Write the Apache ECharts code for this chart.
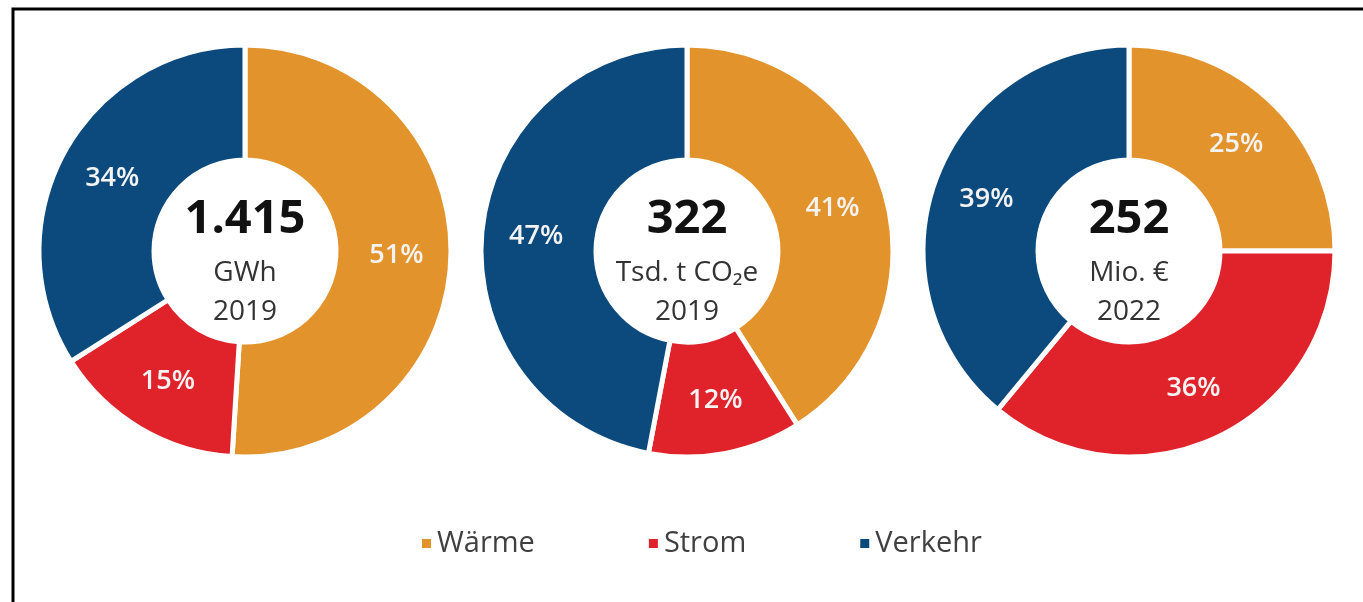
<!DOCTYPE html>
<html>
<head>
<meta charset="utf-8">
<script src="https://cdn.jsdelivr.net/npm/echarts@6/dist/echarts.min.js"></script>
<style>
  html, body { margin: 0; padding: 0; background: #fff; }
  #main { width: 1363px; height: 602px; }
</style>
</head>
<body>
<div id="main"></div>
<script>
var categories = ['Wärme', 'Strom', 'Verkehr'];
var energyShares = [51, 15, 34];     // Energieverbrauch 2019
var emissionShares = [41, 12, 47];   // THG-Emissionen 2019
var costShares = [25, 36, 39];       // Energiekosten 2022
var totals = ['1.415', '322', '252'];
var units = ['GWh', 'Tsd. t CO₂e', 'Mio. €'];
var years = ['2019', '2019', '2022'];
var colors = ['#E3932C', '#E0232A', '#0C4A7D'];

var font = '"Open Sans", "Noto Sans", "DejaVu Sans", sans-serif';
var centersX = [245, 687, 1129];
var centerY = 251;

var myChart = echarts.init(document.getElementById('main'));

function makePie(values, i){
    return {
        type: 'pie',
        center: [centersX[i], centerY],
        radius: [91, 206],
        startAngle: 90,
        clockwise: true,
        silent: true,
        itemStyle: {
            borderColor: '#fff',
            borderWidth: 5
        },
        label: {
            show: true,
            position: 'inside',
            formatter: '{c}%',
            color: '#f3f3f3',
            fontSize: 27,
            fontWeight: 600,
            fontFamily: font
        },
        labelLine: { show: false },
        data: categories.map(function(name, k){
            return { name: name, value: values[k] };
        })
    };
}

// texts in the middle of each ring
var centerTexts = [];
for (var i = 0; i < 3; i++) {
    centerTexts.push({
        type: 'text', x: centersX[i], y: centerY - 31,
        style: { text: totals[i], align: 'center', verticalAlign: 'middle',
                 font: 'bold 47px ' + font, fill: '#111' }
    });
    centerTexts.push({
        type: 'text', x: centersX[i], y: centerY + 22,
        style: { text: units[i], align: 'center', verticalAlign: 'middle',
                 font: '28px ' + font, fill: '#333' }
    });
    centerTexts.push({
        type: 'text', x: centersX[i], y: centerY + 61,
        style: { text: years[i], align: 'center', verticalAlign: 'middle',
                 font: '28px ' + font, fill: '#333' }
    });
}
// frame
centerTexts.push({
    type: 'rect',
    shape: { x: 13, y: 9, width: 1400, height: 700 },
    style: { fill: 'none', stroke: '#000', lineWidth: 3 },
    silent: true
});

var option = {
    animation: false,
    color: colors,
    legend: {
        data: categories,
        left: 415,
        top: 524,
        icon: 'rect',
        itemWidth: 11,
        itemHeight: 11,
        itemGap: 112,
        textStyle: { fontSize: 29, color: '#404040', fontFamily: font }
    },
    graphic: centerTexts,
    series: [
        makePie(energyShares, 0),
        makePie(emissionShares, 1),
        makePie(costShares, 2)
    ]
};
myChart.setOption(option);
</script>
</body>
</html>
